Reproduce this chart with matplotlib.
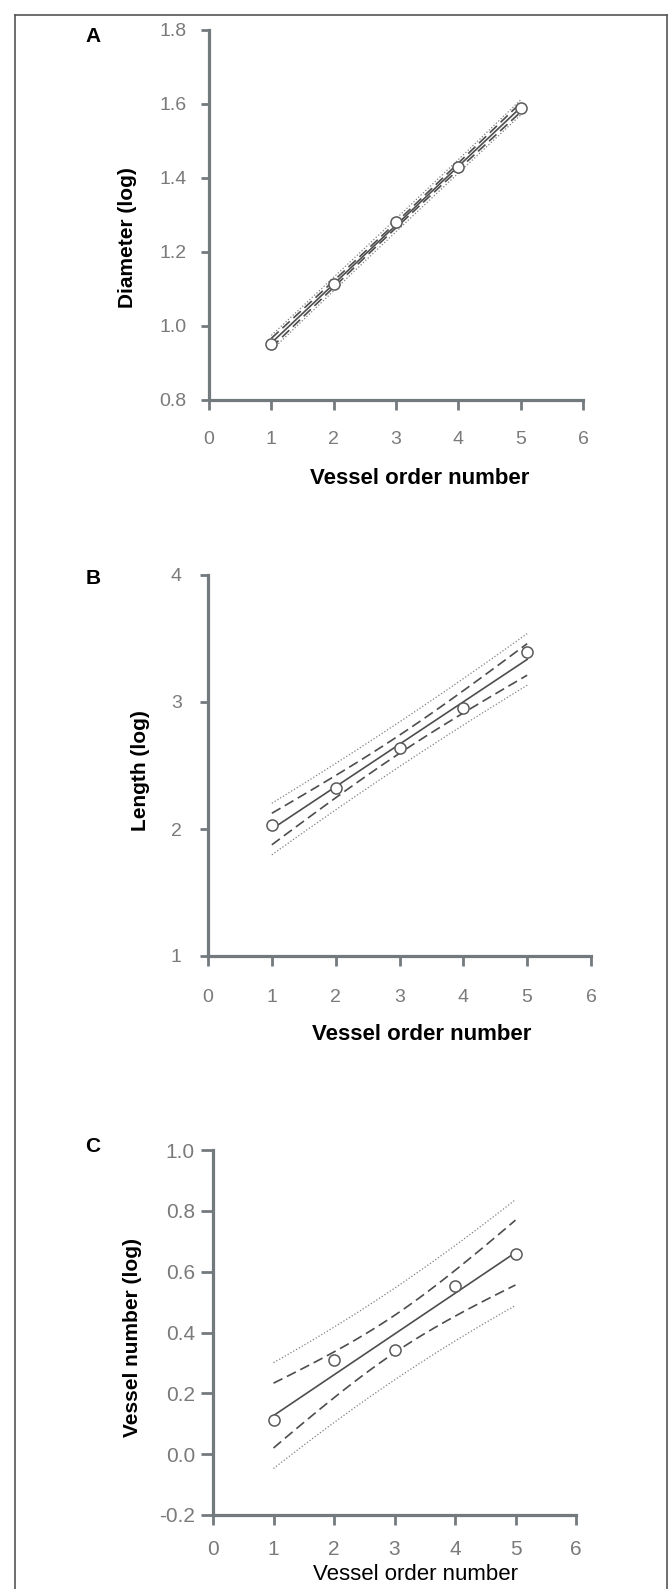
import numpy as np
import matplotlib
matplotlib.use("Agg")
import matplotlib.pyplot as plt

plt.rcParams['font.family'] = ['Liberation Sans', 'DejaVu Sans']

# values
order = [1, 2, 3, 4, 5]
diameter_log = [0.951, 1.113, 1.280, 1.430, 1.588]
length_log = [2.033, 2.326, 2.637, 2.951, 3.390]
number_log = [0.111, 0.308, 0.344, 0.552, 0.659]

x_ticks = [0, 1, 2, 3, 4, 5, 6]
diam_ticks = [0.8, 1.0, 1.2, 1.4, 1.6, 1.8]
len_ticks = [1, 2, 3, 4]
num_ticks = [-0.2, 0.0, 0.2, 0.4, 0.6, 0.8, 1.0]

T_975_DF3 = 3.182  # t quantile for 95% bands, n=5

W, H = 669, 1589
SPINE = '#737a7e'
TICKTXT = '#7a7a7a'
LINE = '#4d4d4d'


def fit_bands(x, y):
    x = np.asarray(x, float)
    y = np.asarray(y, float)
    n = len(x)
    b, a = np.polyfit(x, y, 1)
    resid = y - (a + b * x)
    s = np.sqrt(np.sum(resid ** 2) / (n - 2))
    sxx = np.sum((x - x.mean()) ** 2)
    xs = np.linspace(x.min(), x.max(), 100)
    yfit = a + b * xs
    ci = T_975_DF3 * s * np.sqrt(1 / n + (xs - x.mean()) ** 2 / sxx)
    pi = T_975_DF3 * s * np.sqrt(1 + 1 / n + (xs - x.mean()) ** 2 / sxx)
    return xs, yfit, ci, pi


def px_axes(fig, left, right, top, bottom):
    return fig.add_axes([left / W, 1 - bottom / H, (right - left) / W, (bottom - top) / H])


def draw_panel(ax, y, yticks, ylabels, ylim, ylabel, xlabel_bold, ypad, xpad, ytlen,
               xl_pos, yl_pos, fs):
    xs, yfit, ci, pi = fit_bands(order, y)
    ax.plot(xs, yfit, color=LINE, lw=1.2)
    ax.plot(xs, yfit + ci, color=LINE, lw=1.2, dashes=(6, 3))
    ax.plot(xs, yfit - ci, color=LINE, lw=1.2, dashes=(6, 3))
    ax.plot(xs, yfit + pi, color='#808080', lw=0.9, linestyle=(0, (1, 1.6)))
    ax.plot(xs, yfit - pi, color='#808080', lw=0.9, linestyle=(0, (1, 1.6)))
    ax.plot(order, y, 'o', ms=8, mfc='white', mec='#5a5a5a', mew=1.1, zorder=5)

    ax.set_xlim(0, 6)
    ax.set_ylim(*ylim)
    ax.set_xticks(x_ticks)
    ax.set_yticks(yticks)
    ax.set_yticklabels(ylabels)
    for side in ['top', 'right']:
        ax.spines[side].set_visible(False)
    for side in ['left', 'bottom']:
        ax.spines[side].set_color(SPINE)
        ax.spines[side].set_linewidth(2.3)
    ax.tick_params(axis='x', direction='out', length=7, width=2, color=SPINE,
                   labelcolor=TICKTXT, labelsize=fs, pad=xpad)
    ax.tick_params(axis='y', direction='out', length=ytlen, width=2, color=SPINE,
                   labelcolor=TICKTXT, labelsize=fs, pad=ypad)
    ax.set_xlabel('Vessel order number', fontsize=16,
                  fontweight='bold' if xlabel_bold else 'normal', color='black')
    ax.xaxis.set_label_coords(*xl_pos)
    ax.xaxis.label.set_va('center')
    ax.set_ylabel(ylabel, fontsize=15, fontweight='bold', color='black')
    ax.yaxis.set_label_coords(*yl_pos)
    ax.yaxis.label.set_va('center')
    ax.set_facecolor('none')


def main():
    fig = plt.figure(figsize=(W / 100, H / 100), dpi=100)

    # outer frame
    fig.add_artist(plt.Line2D([15 / W, 15 / W], [0, 1 - 15 / H], color='#555', lw=1.2))
    fig.add_artist(plt.Line2D([15 / W, 667 / W], [1 - 15 / H, 1 - 15 / H], color='#555', lw=1.2))
    fig.add_artist(plt.Line2D([667 / W, 667 / W], [0, 1 - 15 / H], color='#555', lw=1.2))

    ax_a = px_axes(fig, 209, 583, 30, 400)
    draw_panel(ax_a, diameter_log, diam_ticks, ['0.8', '1.0', '1.2', '1.4', '1.6', '1.8'],
               (0.8, 1.8), 'Diameter (log)', True, 10, 15, 6,
               (0.564, -0.211), (-0.217, 0.44), 14)

    ax_b = px_axes(fig, 208, 591, 575, 956)
    draw_panel(ax_b, length_log, len_ticks, ['1', '2', '3', '4'],
               (1, 4), 'Length (log)', True, 13, 17, 6,
               (0.559, -0.207), (-0.175, 0.488), 14)

    ax_c = px_axes(fig, 213, 576, 1150, 1515)
    draw_panel(ax_c, number_log, num_ticks, ['-0.2', '0.0', '0.2', '0.4', '0.6', '0.8', '1.0'],
               (-0.2, 1.0), 'Vessel number (log)', False, 4, 11, 9,
               (0.559, -0.163), (-0.223, 0.487), 15)

    for lab, yy in [('A', 36), ('B', 579), ('C', 1147)]:
        fig.text(93 / W, 1 - yy / H, lab, fontsize=15, fontweight='bold',
                 ha='center', va='center')

    fig.savefig('out.png', dpi=100)


if __name__ == "__main__":
    main()
